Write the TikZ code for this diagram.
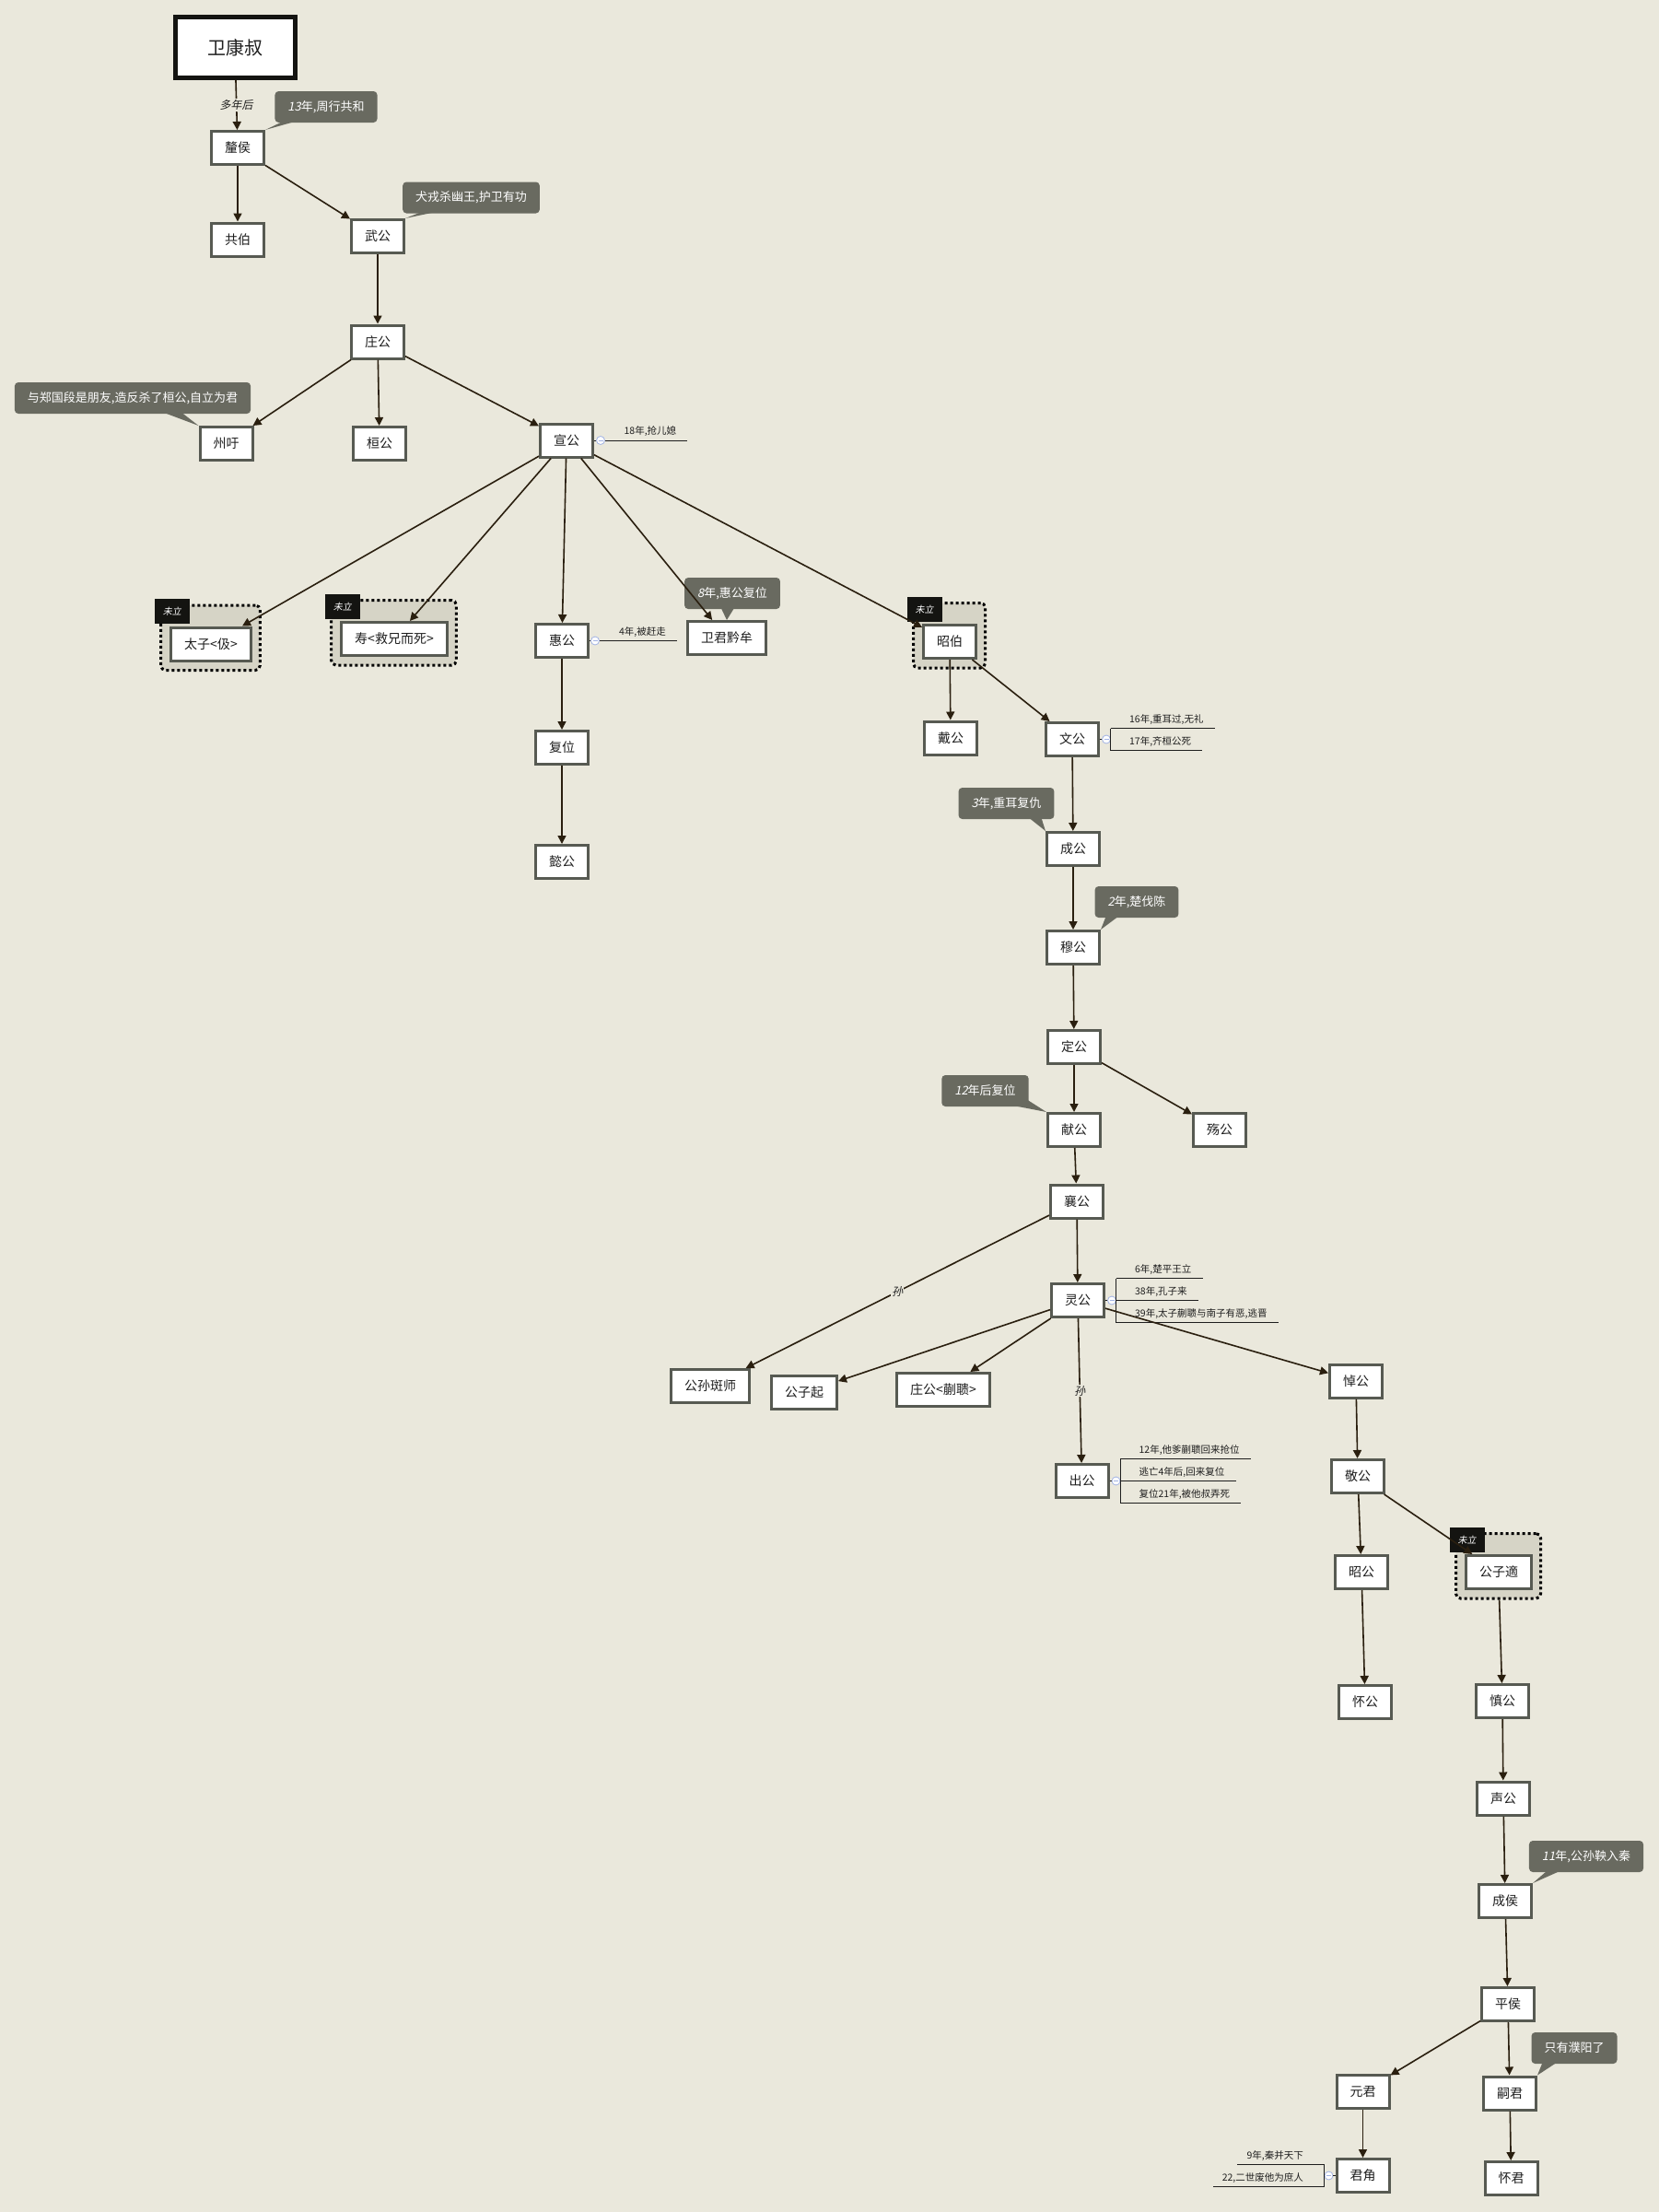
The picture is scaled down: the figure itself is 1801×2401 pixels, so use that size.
\documentclass[tikz,border=0pt]{standalone}
\usepackage{fontspec}
\setmainfont{Noto Sans CJK SC}
\newfontfamily\slantcjk{Noto Sans CJK SC}[FakeSlant=0.2]
\usetikzlibrary{arrows.meta,calc,fit,backgrounds}

\definecolor{pagebg}{HTML}{EAE8DC}
\definecolor{boxline}{HTML}{575A52}
\definecolor{calloutbg}{HTML}{696A60}
\definecolor{arrowcol}{HTML}{2A1F0F}
\definecolor{framebg}{HTML}{D6D4C6}
\definecolor{tagbg}{HTML}{141411}
\definecolor{foldcol}{HTML}{A3B4E4}
\definecolor{inkcol}{HTML}{1E1E1E}

\begin{document}
\begin{tikzpicture}[x=1pt, y=-1pt,
    duke/.style={draw=boxline, line width=3pt, fill=white, minimum width=57pt, minimum height=36pt,
      inner xsep=14.5pt, inner ysep=0pt, text=inkcol, font=\fontsize{14pt}{16pt}\selectfont},
    founder/.style={draw=tagbg, line width=5pt, fill=white, minimum width=130pt, minimum height=66pt,
      text=inkcol, font=\fontsize{20pt}{24pt}\selectfont},
    kin/.style={draw=arrowcol, line width=1.6pt, -{Triangle[length=9pt,width=9pt]}},
    kinlabel/.style={fill=pagebg, inner sep=1pt, text=inkcol, font=\fontsize{12pt}{14pt}\slantcjk},
    callout/.style={fill=calloutbg, rounded corners=4pt, minimum height=34pt, inner xsep=14pt,
      text=white, font=\fontsize{13pt}{15pt}\selectfont},
    unsetframe/.style={draw=black, fill=framebg, line width=3pt, dash pattern=on 3pt off 3pt,
      rounded corners=5pt, inner sep=0pt},
    untag/.style={fill=tagbg, text=white, minimum width=38pt, minimum height=27pt, inner sep=0pt,
      font=\fontsize{10pt}{12pt}\slantcjk},
    fold/.style={circle, draw=foldcol, fill=white, line width=0.8pt, minimum size=9pt, inner sep=0pt,
      path picture={\draw[foldcol, line width=0.8pt] ([xshift=2pt]path picture bounding box.west)
        -- ([xshift=-2pt]path picture bounding box.east);}},
    note/.style={inner xsep=0pt, inner ysep=4pt, text=inkcol, font=\fontsize{10.5pt}{12pt}\selectfont},
    noteline/.style={draw=inkcol, line width=0.9pt}]

  \begin{scope}[on background layer]
    \fill[pagebg] (0,0) rectangle (1801,2401);
  \end{scope}
  \useasboundingbox (0,0) rectangle (1801,2401);

  % rulers
  \node[founder] (weikang) at (255,51.5) {卫康叔};
  \node[duke] (lihou) at (258,160.5) {釐侯};
  \node[duke] (gongbo) at (258,260) {共伯};
  \node[duke] (wugong) at (410,256.5) {武公};
  \node[duke] (zhuang) at (410,371) {庄公};
  \node[duke] (zhouxu) at (245.5,481.5) {州吁};
  \node[duke] (huan) at (412,481.5) {桓公};
  \node[duke] (xuan) at (615,478) {宣公};
  \node[duke] (taizi) at (229,699) {太子<伋>};
  \node[duke] (shou) at (428,693.5) {寿<救兄而死>};
  \node[duke] (hui) at (610,695.5) {惠公};
  \node[duke] (qianmou) at (789,692.5) {卫君黔牟};
  \node[duke] (zhaobo) at (1031,696.5) {昭伯};
  \node[duke] (fuwei) at (610,811.5) {复位};
  \node[duke] (yi) at (610,935.5) {懿公};
  \node[duke] (dai) at (1032,801) {戴公};
  \node[duke] (wen) at (1164,802.5) {文公};
  \node[duke] (cheng) at (1165,921.5) {成公};
  \node[duke] (mu) at (1165,1028.5) {穆公};
  \node[duke] (ding) at (1166,1136.5) {定公};
  \node[duke] (xian) at (1166,1226.5) {献公};
  \node[duke] (shang) at (1324,1226.5) {殇公};
  \node[duke] (xiang) at (1169,1304) {襄公};
  \node[duke] (ling) at (1170,1411.5) {灵公};
  \node[duke] (banshi) at (771,1504.5) {公孙斑师};
  \node[duke] (qi) at (873,1511.5) {公子起};
  \node[duke] (kuaikui) at (1024,1508.5) {庄公<蒯聩>};
  \node[duke] (chu) at (1174.5,1607.5) {出公};
  \node[duke] (dao) at (1472,1499) {悼公};
  \node[duke] (jing) at (1474,1602.5) {敬公};
  \node[duke] (zhaogong) at (1478,1706.5) {昭公};
  \node[duke] (zishi) at (1627,1706.5) {公子適};
  \node[duke] (huai) at (1482,1847.5) {怀公};
  \node[duke] (shen) at (1631,1846.5) {慎公};
  \node[duke] (sheng) at (1632,1952) {声公};
  \node[duke] (chenghou) at (1634,2063.5) {成侯};
  \node[duke] (ping) at (1637,2175.5) {平侯};
  \node[duke] (yuanjun) at (1479.5,2270.5) {元君};
  \node[duke] (sijun) at (1639,2272) {嗣君};
  \node[duke] (junjiao) at (1479.5,2361.5) {君角};
  \node[duke] (huaijun) at (1640.5,2364.5) {怀君};

  % never enthroned
  \begin{scope}[on background layer]
    \node[unsetframe, fit={($(taizi.north west)+(-9.5,-22.5)$) ($(taizi.south east)+(8.5,9)$)}] (taiziU) {};
    \node[untag, anchor=north west] (taiziT) at ($(taiziU.north west)+(-5.5,-5.5)$) {未立};
    \node[unsetframe, fit={($(shou.north west)+(-9.5,-22.5)$) ($(shou.south east)+(8.5,9)$)}] (shouU) {};
    \node[untag, anchor=north west] (shouT) at ($(shouU.north west)+(-5.5,-5.5)$) {未立};
    \node[unsetframe, fit={($(zhaobo.north west)+(-9.5,-22.5)$) ($(zhaobo.south east)+(8.5,9)$)}] (zhaoboU) {};
    \node[untag, anchor=north west] (zhaoboT) at ($(zhaoboU.north west)+(-5.5,-5.5)$) {未立};
    \node[unsetframe, fit={($(zishi.north west)+(-9.5,-22.5)$) ($(zishi.south east)+(8.5,9)$)}] (zishiU) {};
    \node[untag, anchor=north west] (zishiT) at ($(zishiU.north west)+(-5.5,-5.5)$) {未立};
  \end{scope}

  % callouts
  \node[callout] (c1) at (354,116) {{\slantcjk 13}年,周行共和};
  \fill[calloutbg] ($(c1.south west)+(8,-1)$) -- (lihou.north east) -- ($(c1.south west)+(21,-1)$) -- cycle;
  \node[callout] (c2) at (511.5,214.5) {犬戎杀幽王,护卫有功};
  \fill[calloutbg] ($(c2.south west)+(19,-1)$) -- (wugong.north east) -- ($(c2.south west)+(33,-1)$) -- cycle;
  \node[callout] (c3) at (144,432) {与郑国段是朋友,造反杀了桓公,自立为君};
  \fill[calloutbg] ($(c3.south west)+(163,-1)$) -- (zhouxu.north west) -- ($(c3.south west)+(182,-1)$) -- cycle;
  \node[callout] (c4) at (795,644) {{\slantcjk 8}年,惠公复位};
  \fill[calloutbg] ($(c4.south west)+(40,-1)$) -- (qianmou.north) -- ($(c4.south west)+(54,-1)$) -- cycle;
  \node[callout] (c5) at (1092.5,872) {{\slantcjk 3}年,重耳复仇};
  \fill[calloutbg] ($(c5.south east)+(-27,-1)$) -- (cheng.north west) -- ($(c5.south east)+(-14,-1)$) -- cycle;
  \node[callout] (c6) at (1234,979) {{\slantcjk 2}年,楚伐陈};
  \fill[calloutbg] ($(c6.south west)+(12,-1)$) -- (mu.north east) -- ($(c6.south west)+(25,-1)$) -- cycle;
  \node[callout] (c7) at (1069.5,1184) {{\slantcjk 12}年后复位};
  \fill[calloutbg] ($(c7.south east)+(-16,-1)$) -- (xian.north west) -- ($(c7.south east)+(-1,-7)$) -- cycle;
  \node[callout] (c8) at (1722,2015) {{\slantcjk 11}年,公孙鞅入秦};
  \fill[calloutbg] ($(c8.south west)+(19,-1)$) -- (chenghou.north east) -- ($(c8.south west)+(33,-1)$) -- cycle;
  \node[callout] (c9) at (1709,2223) {只有濮阳了};
  \fill[calloutbg] ($(c9.south west)+(12,-1)$) -- (sijun.north east) -- ($(c9.south west)+(27,-1)$) -- cycle;

  % side notes
  \node[fold] (xuanO) at ($(xuan.east)+(7,0)$) {};
  \node[note, anchor=south west] (xuanA) at ($(xuanO.east)+(20.5,0)$) {18年,抢儿媳};
  \draw[noteline] (xuan) -- (xuanO);
  \draw[noteline] (xuanO) -- ($(xuanA.south east)+(12,0)$);

  \node[fold] (huiO) at ($(hui.east)+(6,0)$) {};
  \node[note, anchor=south west] (huiA) at ($(huiO.east)+(21,0)$) {4年,被赶走};
  \draw[noteline] (hui) -- (huiO);
  \draw[noteline] (huiO) -- ($(huiA.south east)+(12,0)$);

  \node[fold] (wenO) at ($(wen.east)+(7,0)$) {};
  \coordinate (wen1) at ($(wenO.east)+(0,-12)$);
  \coordinate (wen2) at ($(wenO.east)+(0,12)$);
  \node[note, anchor=south west] (wenA) at ($(wen1)+(20,0)$) {16年,重耳过,无礼};
  \node[note, anchor=south west] (wenB) at ($(wen2)+(20,0)$) {17年,齐桓公死};
  \draw[noteline] (wen) -- (wenO);
  \draw[noteline] (wen1) -- (wen2);
  \draw[noteline] (wen1) -- ($(wenA.south east)+(12,0)$);
  \draw[noteline] (wen2) -- ($(wenB.south east)+(12,0)$);

  \node[fold] (lingO) at ($(ling.east)+(7,0)$) {};
  \coordinate (ling1) at ($(lingO.east)+(0,-24)$);
  \coordinate (ling2) at (lingO.east);
  \coordinate (ling3) at ($(lingO.east)+(0,24)$);
  \node[note, anchor=south west] (lingA) at ($(ling1)+(20,0)$) {6年,楚平王立};
  \node[note, anchor=south west] (lingB) at ($(ling2)+(20,0)$) {38年,孔子来};
  \node[note, anchor=south west] (lingC) at ($(ling3)+(20,0)$) {39年,太子蒯聩与南子有恶,逃晋};
  \draw[noteline] (ling) -- (lingO);
  \draw[noteline] (ling1) -- (ling3);
  \draw[noteline] (ling1) -- ($(lingA.south east)+(12,0)$);
  \draw[noteline] (ling2) -- ($(lingB.south east)+(12,0)$);
  \draw[noteline] (ling3) -- ($(lingC.south east)+(12,0)$);

  \node[fold] (chuO) at ($(chu.east)+(7,0)$) {};
  \coordinate (chu1) at ($(chuO.east)+(0,-24)$);
  \coordinate (chu2) at (chuO.east);
  \coordinate (chu3) at ($(chuO.east)+(0,24)$);
  \node[note, anchor=south west] (chuA) at ($(chu1)+(20,0)$) {12年,他爹蒯聩回来抢位};
  \node[note, anchor=south west] (chuB) at ($(chu2)+(20,0)$) {逃亡4年后,回来复位};
  \node[note, anchor=south west] (chuC) at ($(chu3)+(20,0)$) {复位21年,被他叔弄死};
  \draw[noteline] (chu) -- (chuO);
  \draw[noteline] (chu1) -- (chu3);
  \draw[noteline] (chu1) -- ($(chuA.south east)+(12,0)$);
  \draw[noteline] (chu2) -- ($(chuB.south east)+(12,0)$);
  \draw[noteline] (chu3) -- ($(chuC.south east)+(12,0)$);

  \node[fold] (junjiaoO) at ($(junjiao.west)+(-7,0)$) {};
  \coordinate (junjiao1) at ($(junjiaoO.west)+(0,-12)$);
  \coordinate (junjiao2) at ($(junjiaoO.west)+(0,12)$);
  \node[note, anchor=south east] (junjiaoA) at ($(junjiao1)+(-22.5,0)$) {9年,秦并天下};
  \node[note, anchor=south east] (junjiaoB) at ($(junjiao2)+(-22.5,0)$) {22,二世废他为庶人};
  \draw[noteline] (junjiao) -- (junjiaoO);
  \draw[noteline] (junjiao1) -- (junjiao2);
  \draw[noteline] (junjiao1) -- ($(junjiaoA.south west)+(-10,0)$);
  \draw[noteline] (junjiao2) -- ($(junjiaoB.south west)+(-10,0)$);

  % descent
  \draw[kin] (weikang) -- node[kinlabel] {多年后} (lihou);
  \draw[kin] (lihou) -- (gongbo);
  \draw[kin] (lihou) -- (wugong);
  \draw[kin] (wugong) -- (zhuang);
  \draw[kin] (zhuang) -- (zhouxu);
  \draw[kin] (zhuang) -- (huan);
  \draw[kin] (zhuang) -- (xuan);
  \draw[kin] (xuan) -- (taizi);
  \draw[kin] (xuan) -- (shou);
  \draw[kin] (xuan) -- (hui);
  \draw[kin] (xuan) -- (qianmou);
  \draw[kin] (xuan) -- (zhaobo);
  \draw[kin] (hui) -- (fuwei);
  \draw[kin] (fuwei) -- (yi);
  \draw[kin] (zhaobo) -- (dai);
  \draw[kin] (zhaobo) -- (wen);
  \draw[kin] (wen) -- (cheng);
  \draw[kin] (cheng) -- (mu);
  \draw[kin] (mu) -- (ding);
  \draw[kin] (ding) -- (xian);
  \draw[kin] (ding) -- (shang);
  \draw[kin] (xian) -- (xiang);
  \draw[kin] (xiang) -- node[kinlabel] {孙} (banshi);
  \draw[kin] (xiang) -- (ling);
  \draw[kin] (ling) -- (qi);
  \draw[kin] (ling) -- (kuaikui);
  \draw[kin] (ling) -- node[kinlabel] {孙} (chu);
  \draw[kin] (ling) -- (dao);
  \draw[kin] (dao) -- (jing);
  \draw[kin] (jing) -- (zhaogong);
  \draw[kin] (jing) -- (zishi);
  \draw[kin] (zhaogong) -- (huai);
  \draw[kin] (zishiU) -- (shen);
  \draw[kin] (shen) -- (sheng);
  \draw[kin] (sheng) -- (chenghou);
  \draw[kin] (chenghou) -- (ping);
  \draw[kin] (ping) -- (yuanjun);
  \draw[kin] (ping) -- (sijun);
  \draw[kin] (yuanjun) -- (junjiao);
  \draw[kin] (sijun) -- (huaijun);
\end{tikzpicture}
\end{document}
